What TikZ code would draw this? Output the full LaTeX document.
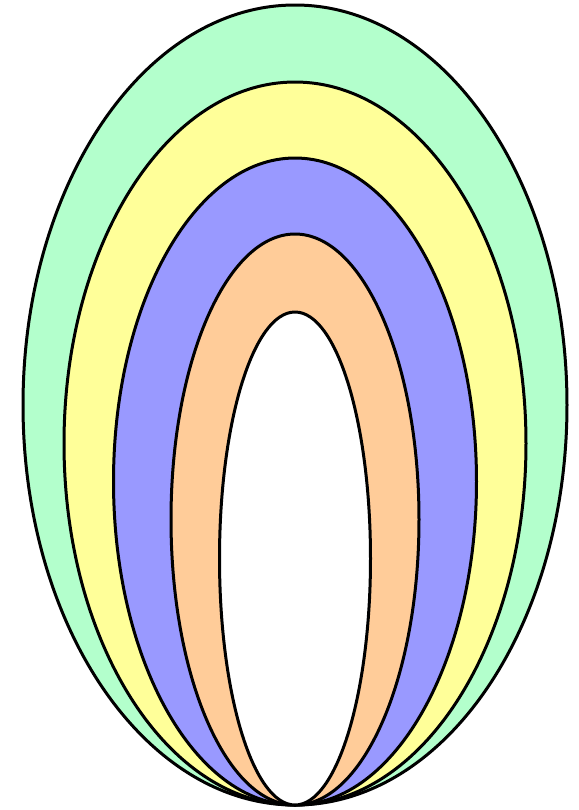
\documentclass[tikz,border=0pt]{standalone}
\usepackage{tikz}

\begin{document}
\begin{tikzpicture}[x=0.5pt, y=-0.5pt, line width=1.5pt]
    \definecolor{ringgreen}{RGB}{179,255,204}
    \definecolor{ringyellow}{RGB}{255,255,153}
    \definecolor{ringblue}{RGB}{153,153,255}
    \definecolor{ringorange}{RGB}{255,204,153}
    \useasboundingbox (0,0) rectangle (579,810);
    % nested ellipses, all touching at the bottom point
    % color / center y / x radius / y radius
    \foreach \c/\cy/\rx/\ry in {%
        ringgreen/405/272/400, ringyellow/443.5/231/361.5,
        ringblue/481.5/181.5/323.5, ringorange/519.5/124/285.5,
        white/558.5/75.5/246.5%
    }{
        \filldraw[fill=\c, draw=black] (295,\cy) ellipse [x radius=\rx, y radius=\ry];
    }
\end{tikzpicture}
\end{document}
